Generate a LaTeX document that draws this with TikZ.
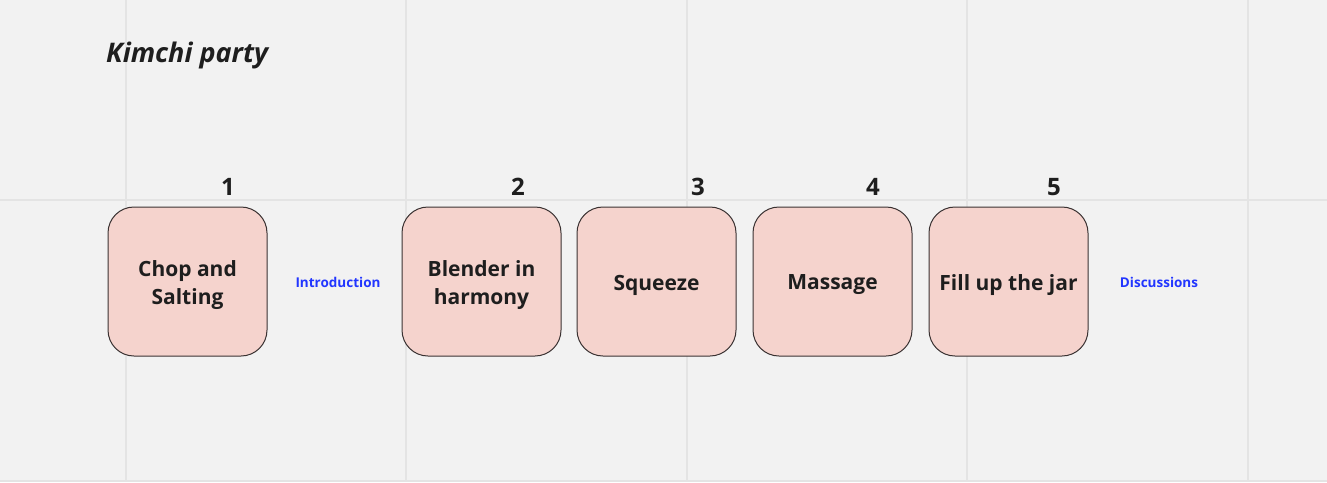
\documentclass[tikz,border=0pt]{standalone}
\usepackage{fontspec}
\setmainfont{Open Sans}
\definecolor{bg}{HTML}{F2F2F2}
\definecolor{gridc}{HTML}{E4E4E4}
\definecolor{boxfill}{HTML}{F5D3CD}
\definecolor{boxline}{HTML}{3A3232}
\definecolor{txt}{HTML}{1E1E1E}
\definecolor{blu}{HTML}{2236FF}
\begin{document}
\begin{tikzpicture}[x=1pt,y=-1pt,
  stepbox/.style={draw=boxline,line width=1pt,fill=boxfill,rounded corners=26pt,
    minimum width=159pt,minimum height=149pt,inner sep=0pt},
  boxtxt/.style={align=center,inner sep=0pt,
    text=txt,font=\fontsize{21}{28}\selectfont\bfseries},
  num/.style={text=txt,font=\fontsize{24}{28}\selectfont\bfseries,inner sep=0pt},
  lab/.style={text=blu,font=\fontsize{13.5}{16}\selectfont\bfseries,inner sep=0pt},
  gridl/.style={draw=gridc,line width=2pt}]
\fill[bg] (0,0) rectangle (1327,482);
\useasboundingbox (0,0) rectangle (1327,482);
\foreach \x in {126,406,687,967,1248} \draw[gridl] (\x,0) -- (\x,482);
\draw[gridl] (0,200) -- (1327,200);
\draw[gridl] (0,481) -- (1327,481);
\node[anchor=west,text=txt,font=\fontsize{27}{30}\selectfont\bfseries\itshape,inner sep=0pt] (title) at (106,55) {Kimchi party};
\node[stepbox] (b1) at (187.5,281.5) {};
\node[stepbox] (b2) at (481.5,281.5) {};
\node[stepbox] (b3) at (656.5,281.5) {};
\node[stepbox] (b4) at (832.5,281.5) {};
\node[stepbox] (b5) at (1008.5,281.5) {};
\node[boxtxt] (t1) at ([yshift=-3.5pt]b1.center) {Chop and\\Salting};
\node[boxtxt] (t2) at ([yshift=-3.5pt]b2.center) {Blender in\\harmony};
\node[boxtxt] (t3) at ([yshift=-3.5pt]b3.center) {Squeeze};
\node[boxtxt] (t4) at ([yshift=-3.5pt]b4.center) {Massage};
\node[boxtxt] (t5) at ([yshift=-3.5pt]b5.center) {Fill up the jar};
\node[num] (n1) at (228,187) {1};
\node[num] (n2) at (518,187) {2};
\node[num] (n3) at (698,187) {3};
\node[num] (n4) at (873,187) {4};
\node[num] (n5) at (1054,187) {5};
\node[lab] (intro) at (338,282) {Introduction};
\node[lab] (disc) at (1159,282) {Discussions};
\end{tikzpicture}
\end{document}
